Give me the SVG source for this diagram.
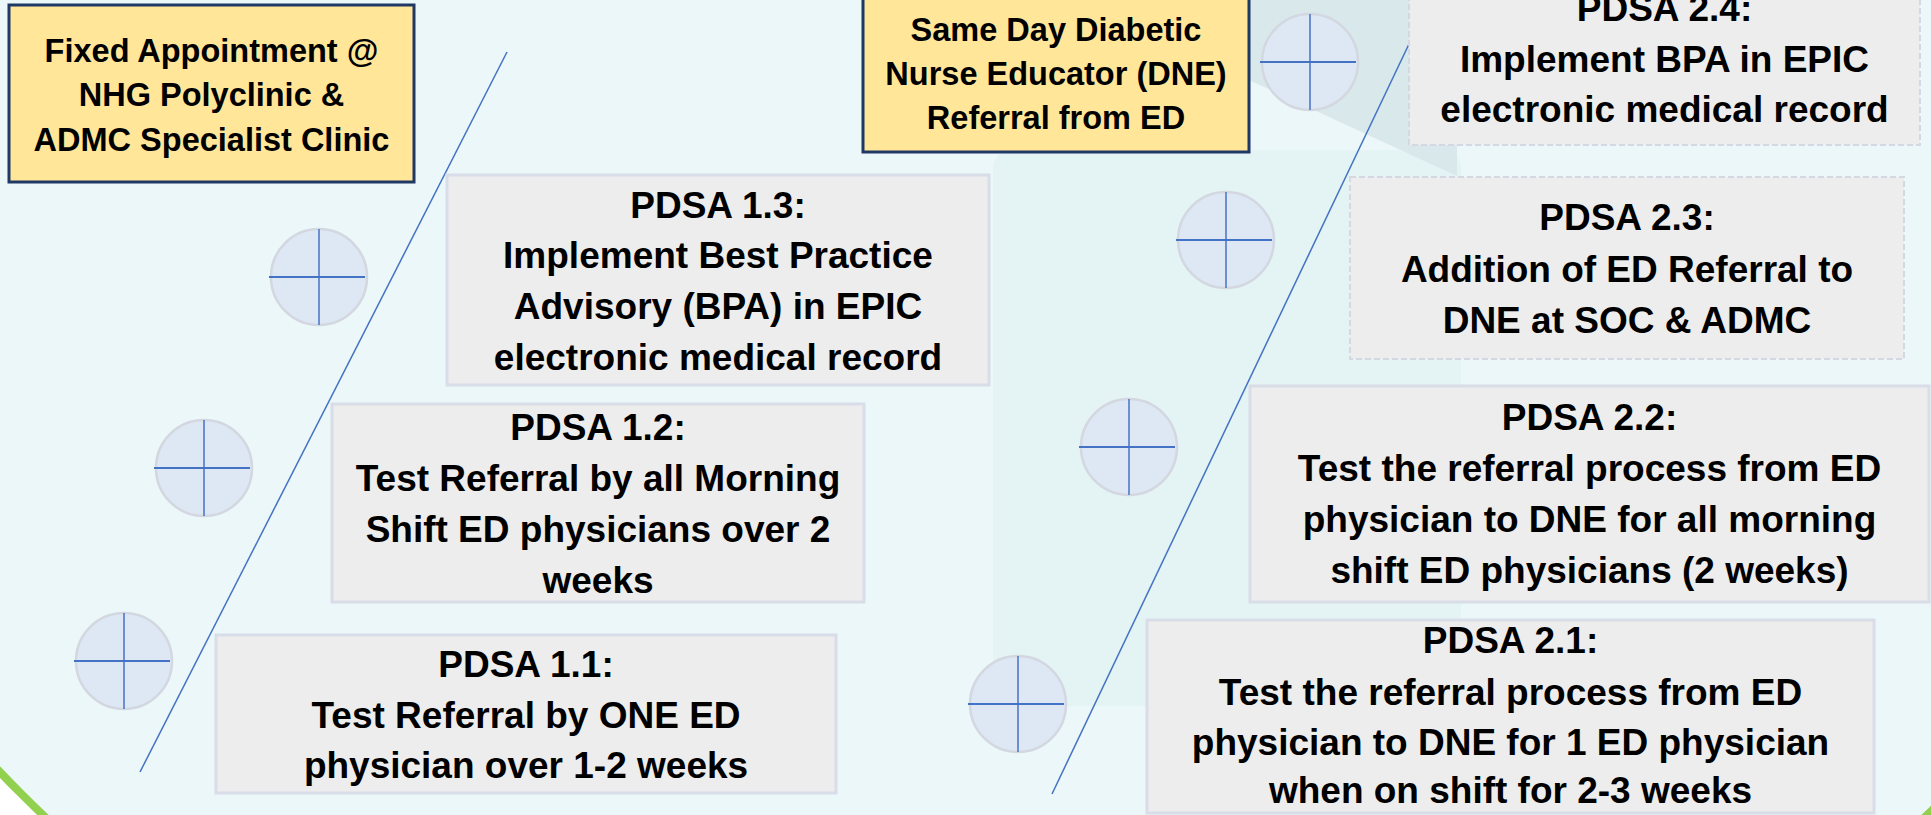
<svg xmlns="http://www.w3.org/2000/svg" width="1931" height="815" viewBox="0 0 1931 815">
<style>
.ybox{fill:#FFE699;stroke:#203864;stroke-width:3}
.gbox{fill:#EDEDED;stroke:#D8DDE7;stroke-width:3}
.dbox{fill:#EDEDED;stroke:#D3D8E2;stroke-width:2;stroke-dasharray:6 3}
.ytxt{font-family:"Liberation Sans",Arial,sans-serif;font-weight:bold;font-size:32.5px;fill:#000;text-anchor:middle}
.gtxt{font-family:"Liberation Sans",Arial,sans-serif;font-weight:bold;font-size:37px;fill:#000;text-anchor:middle}
.circ{fill:#DEE8F5;stroke:#D3D7E0;stroke-width:2.5}
.ch{stroke:#4472C4;stroke-width:2;fill:none}
.cv{stroke:#4472C4;stroke-width:1.5;fill:none}
.trend{stroke:#4472C4;stroke-width:1.5;fill:none}
</style>
<defs>
<g id="pdsa">
<ellipse class="circ" cx="0" cy="0" rx="48" ry="48"/>
<line class="ch" x1="-50" y1="0" x2="46" y2="0"/>
<line class="cv" x1="0" y1="-48" x2="0" y2="48"/>
</g>
</defs>
<rect x="0" y="0" width="1931" height="815" fill="#FFFFFF"/>
<circle cx="985" cy="-170" r="1363" fill="#EBF7F8" stroke="#92D050" stroke-width="8"/>
<rect x="993" y="150" width="468" height="556" rx="18" fill="#E4F3F4"/>
<polygon points="1249,0 1249,80 1457,176 1457,0" fill="#D8E8EB"/>
<g id="connectors">
<line class="trend" x1="507" y1="52" x2="140" y2="772"/>
<line class="trend" x1="1409" y1="44" x2="1052" y2="794"/>
</g>
<g id="node-fixed">
<rect class="ybox" x="9" y="5" width="405" height="177"/>
<text class="ytxt" x="211.5" y="62">Fixed Appointment @</text>
<text class="ytxt" x="211.5" y="106">NHG Polyclinic &amp;</text>
<text class="ytxt" x="211.5" y="151">ADMC Specialist Clinic</text>
</g>
<g id="node-sameday">
<rect class="ybox" x="863" y="-10" width="386" height="162"/>
<text class="ytxt" x="1056" y="41">Same Day Diabetic</text>
<text class="ytxt" x="1056" y="85">Nurse Educator (DNE)</text>
<text class="ytxt" x="1056" y="129">Referral from ED</text>
</g>
<g id="node-pdsa13">
<rect class="gbox" x="447" y="175" width="542" height="210"/>
<text class="gtxt" x="718" y="218">PDSA 1.3:</text>
<text class="gtxt" x="718" y="268">Implement Best Practice</text>
<text class="gtxt" x="718" y="319">Advisory (BPA) in EPIC</text>
<text class="gtxt" x="718" y="370">electronic medical record</text>
</g>
<g id="node-pdsa12">
<rect class="gbox" x="332" y="404" width="532" height="198"/>
<text class="gtxt" x="598" y="440">PDSA 1.2:</text>
<text class="gtxt" x="598" y="491">Test Referral by all Morning</text>
<text class="gtxt" x="598" y="542">Shift ED physicians over 2</text>
<text class="gtxt" x="598" y="593">weeks</text>
</g>
<g id="node-pdsa11">
<rect class="gbox" x="216" y="635" width="620" height="158"/>
<text class="gtxt" x="526" y="677">PDSA 1.1:</text>
<text class="gtxt" x="526" y="728">Test Referral by ONE ED</text>
<text class="gtxt" x="526" y="778">physician over 1-2 weeks</text>
</g>
<g id="node-pdsa24">
<rect class="dbox" x="1409" y="-30" width="511" height="175"/>
<text class="gtxt" x="1664.5" y="21">PDSA 2.4:</text>
<text class="gtxt" x="1664.5" y="72">Implement BPA in EPIC</text>
<text class="gtxt" x="1664.5" y="122">electronic medical record</text>
</g>
<g id="node-pdsa23">
<rect class="dbox" x="1350" y="177" width="554" height="182"/>
<text class="gtxt" x="1627" y="230">PDSA 2.3:</text>
<text class="gtxt" x="1627" y="282">Addition of ED Referral to</text>
<text class="gtxt" x="1627" y="333">DNE at SOC &amp; ADMC</text>
</g>
<g id="node-pdsa22">
<rect class="gbox" x="1250" y="386" width="679" height="216"/>
<text class="gtxt" x="1589.5" y="430">PDSA 2.2:</text>
<text class="gtxt" x="1589.5" y="481">Test the referral process from ED</text>
<text class="gtxt" x="1589.5" y="532">physician to DNE for all morning</text>
<text class="gtxt" x="1589.5" y="583">shift ED physicians (2 weeks)</text>
</g>
<g id="node-pdsa21">
<rect class="gbox" x="1147" y="620" width="727" height="193"/>
<text class="gtxt" x="1510.5" y="653">PDSA 2.1:</text>
<text class="gtxt" x="1510.5" y="705">Test the referral process from ED</text>
<text class="gtxt" x="1510.5" y="755">physician to DNE for 1 ED physician</text>
<text class="gtxt" x="1510.5" y="803">when on shift for 2-3 weeks</text>
</g>
<g id="node-cycle13"><use href="#pdsa" x="319" y="277"/></g>
<g id="node-cycle12"><use href="#pdsa" x="204" y="468"/></g>
<g id="node-cycle11"><use href="#pdsa" x="124" y="661"/></g>
<g id="node-cycle24"><use href="#pdsa" x="1310" y="62"/></g>
<g id="node-cycle23"><use href="#pdsa" x="1226" y="240"/></g>
<g id="node-cycle22"><use href="#pdsa" x="1129" y="447"/></g>
<g id="node-cycle21"><use href="#pdsa" x="1018" y="704"/></g>
</svg>
